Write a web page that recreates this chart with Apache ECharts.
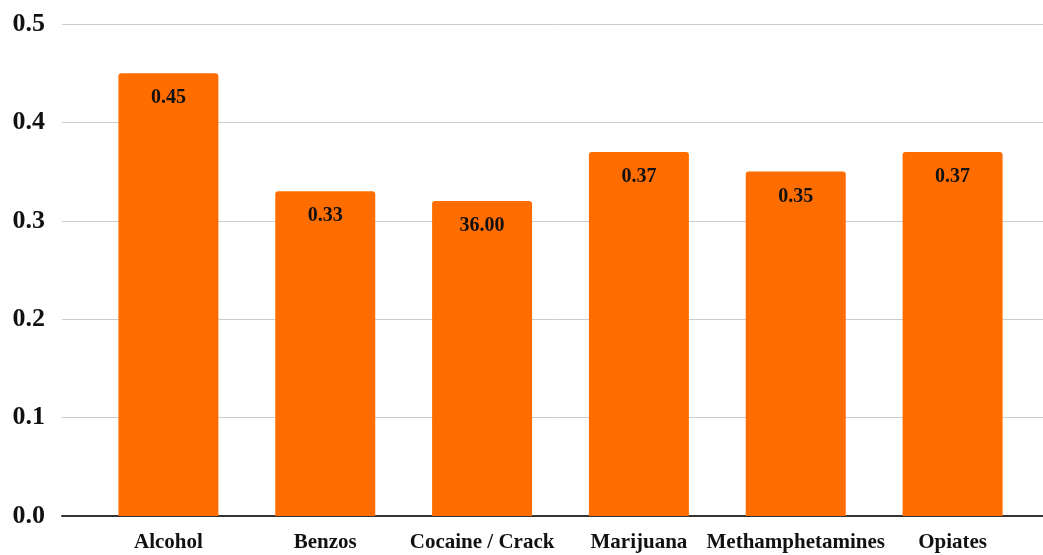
<!DOCTYPE html>
<html lang="en" style="height: 100%">
<head>
  <meta charset="UTF-8">
  <title>Chart</title>
  <script src="https://cdn.jsdelivr.net/npm/echarts@6.0.0/dist/echarts.min.js"></script>
</head>
<body style="height: 100%; margin: 0; background: #fff">
  <div id="container" style="width: 1043px; height: 555px"></div>
  <script>
    var categories = ['Alcohol', 'Benzos', 'Cocaine / Crack', 'Marijuana', 'Methamphetamines', 'Opiates'];
    var values = [0.45, 0.33, 0.32, 0.37, 0.35, 0.37];
    var barLabels = ['0.45', '0.33', '36.00', '0.37', '0.35', '0.37'];

    var serif = '"Liberation Serif", "DejaVu Serif", serif';
    var chart = echarts.init(document.getElementById('container'));

    var option = {
      animation: false,
      grid: [
        // background grid: gridlines + baseline, spans full width
        { left: 62, right: 0, top: 24, bottom: 39 },
        // bars
        { left: 90, width: 941, top: 24, bottom: 39 }
      ],
      xAxis: [
        {
          gridIndex: 0, type: 'value', min: 0, max: 1,
          axisLine: { show: true, onZero: false, lineStyle: { color: '#333', width: 2 } },
          axisTick: { show: false }, axisLabel: { show: false }, splitLine: { show: false }
        },
        {
          gridIndex: 1, type: 'category', data: categories,
          axisLine: { show: false }, axisTick: { show: false },
          axisLabel: {
            margin: 16, color: '#111', fontFamily: serif, fontWeight: 'bold', fontSize: 21,
            interval: 0
          }
        }
      ],
      yAxis: [
        {
          gridIndex: 0, type: 'value', min: 0, max: 0.5, interval: 0.1,
          axisLine: { show: false }, axisTick: { show: false },
          axisLabel: {
            margin: 17, color: '#111', fontFamily: serif, fontWeight: 'bold', fontSize: 26,
            formatter: function (v) { return v.toFixed(1); }
          },
          splitLine: { lineStyle: { color: '#cccccc', width: 1 } }
        },
        {
          gridIndex: 1, type: 'value', min: 0, max: 0.5, interval: 0.1,
          axisLine: { show: false }, axisTick: { show: false },
          axisLabel: { show: false }, splitLine: { show: false }
        }
      ],
      series: [
        {
          type: 'bar',
          xAxisIndex: 1, yAxisIndex: 1,
          data: values,
          barWidth: 100,
          itemStyle: { color: '#ff6d00', borderRadius: [3, 3, 0, 0] },
          label: {
            show: true, position: 'insideTop', distance: 15,
            color: '#111', fontFamily: serif, fontWeight: 'bold', fontSize: 20,
            formatter: function (p) { return barLabels[p.dataIndex]; }
          }
        }
      ]
    };
    chart.setOption(option);
  </script>
</body>
</html>
